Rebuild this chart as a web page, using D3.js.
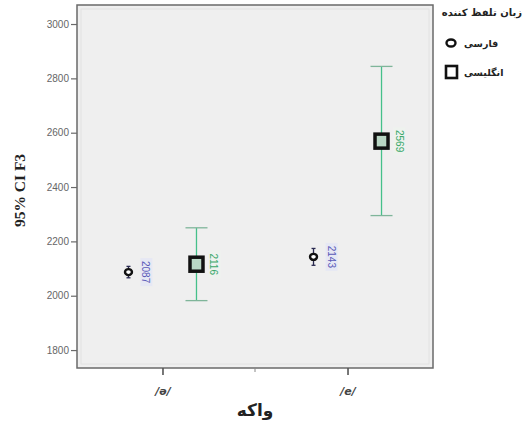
<!DOCTYPE html>
<html><head><meta charset="utf-8">
<script src="https://cdn.jsdelivr.net/npm/d3@7"></script>
<style>body{margin:0;background:#fff}svg{display:block}</style>
</head><body>
<svg id="c" width="524" height="433"></svg>
<script>
const categories = ['/ə/', '/e/'];
const seriesNames = ['فارسی', 'انگلیسی'];
const persianMean = [2087, 2143];
const persianLow = [2066, 2112];
const persianHigh = [2108, 2174];
const englishMean = [2116, 2569];
const englishLow = [1982, 2295];
const englishHigh = [2250, 2844];
const yTicks = [1800, 2000, 2200, 2400, 2600, 2800, 3000];
const yTitle = '95% CI F3';
const xTitle = 'واکه';
const legendTitle = 'زبان تلفظ کننده';

const svg = d3.select('#c');
const L = 77, R = 433, T = 5, B = 368;
const x = d3.scalePoint().domain(categories).range([L, R]).padding(0.462);
const sub = d3.scalePoint().domain(seriesNames).range([-34, 34]);
const y = d3.scaleLinear().domain([1734, 3070]).range([B, T]);

// plot background
svg.append('rect').attr('x', L).attr('y', T).attr('width', R - L).attr('height', B - T).attr('fill', '#efefef');
svg.append('rect').attr('x', L + 4).attr('y', T + 4).attr('width', R - L - 8).attr('height', B - T - 8)
  .attr('fill', 'none').attr('stroke', '#e2e2e2').attr('stroke-width', 1);
svg.append('rect').attr('x', L).attr('y', T).attr('width', R - L).attr('height', B - T)
  .attr('fill', 'none').attr('stroke', '#6a6a6a').attr('stroke-width', 1.5);

// y axis
const ya = svg.append('g').attr('transform', `translate(${L},0)`)
  .call(d3.axisLeft(y).tickValues(yTicks).tickSize(6).tickFormat(d3.format('d')));
ya.select('.domain').remove();
ya.selectAll('line').attr('stroke', '#6a6a6a').attr('stroke-width', 1.2);
ya.selectAll('text').attr('fill', '#666').attr('font-family', 'Liberation Sans, Arial, sans-serif').attr('font-size', 10).attr('x', -8);

// x axis
const xa = svg.append('g').attr('transform', `translate(0,${B})`)
  .call(d3.axisBottom(x).tickSize(7));
xa.select('.domain').remove();
xa.selectAll('line').attr('stroke', '#555').attr('stroke-width', 1.6);
xa.selectAll('text').attr('fill', '#444').attr('font-family', 'DejaVu Sans, sans-serif')
  .attr('font-size', 11).attr('font-weight', 'bold').attr('font-style', 'italic').attr('y', 19);
const mid = (x(categories[0]) + x(categories[1])) / 2;
svg.append('line').attr('x1', mid).attr('x2', mid).attr('y1', B).attr('y2', B + 4).attr('stroke', '#888');

// titles
svg.append('text').attr('transform', `translate(25,${(T + B) / 2 + 4}) rotate(-90)`)
  .attr('text-anchor', 'middle').attr('font-family', 'Liberation Serif, Times New Roman, serif')
  .attr('font-weight', 'bold').attr('font-size', 15.5).attr('fill', '#222').text(yTitle);
svg.append('text').attr('x', mid).attr('y', 416).attr('text-anchor', 'middle')
  .attr('font-family', 'DejaVu Sans, sans-serif').attr('font-weight', 'bold').attr('font-size', 17)
  .attr('fill', '#222').text(xTitle);

// series
const series = [
  {name: seriesNames[0], mean: persianMean, low: persianLow, high: persianHigh, bar: '#2a2a50', cap: 2, label: '#5a5ab8', shape: 'circle'},
  {name: seriesNames[1], mean: englishMean, low: englishLow, high: englishHigh, bar: '#45c08a', cap: 11, label: '#3aa86a', shape: 'square'}
];
series.forEach(s => {
  categories.forEach((c, i) => {
    const cx = x(c) + sub(s.name);
    const g = svg.append('g');
    g.append('line').attr('x1', cx).attr('x2', cx).attr('y1', y(s.high[i])).attr('y2', y(s.low[i]))
      .attr('stroke', s.bar).attr('stroke-width', 1.3);
    [s.high[i], s.low[i]].forEach(v => {
      g.append('line').attr('x1', cx - s.cap).attr('x2', cx + s.cap).attr('y1', y(v)).attr('y2', y(v))
        .attr('stroke', s.shape === 'square' ? '#7fb59a' : s.bar).attr('stroke-width', 1.3);
    });
    const cy = y(s.mean[i]);
    if (s.shape === 'circle') {
      g.append('ellipse').attr('cx', cx).attr('cy', cy).attr('rx', 3.5).attr('ry', 3)
        .attr('fill', '#fff').attr('stroke', '#111').attr('stroke-width', 2.4);
    } else {
      g.append('rect').attr('x', cx - 6.5).attr('y', cy - 7).attr('width', 13).attr('height', 14)
        .attr('fill', '#b9d6c4').attr('stroke', '#111').attr('stroke-width', 3.5);
    }
    const lx = cx + 18;
    const lab = g.append('g').attr('transform', `translate(${lx},${cy}) rotate(90)`);
    lab.append('rect').attr('x', -14).attr('y', -6).attr('width', 28).attr('height', 12)
      .attr('fill', s.shape === 'circle' ? '#e6e8f4' : '#eef2ee');
    lab.append('text').attr('text-anchor', 'middle').attr('dy', 4)
      .attr('font-family', 'Liberation Sans, Arial, sans-serif').attr('font-size', 10)
      .attr('fill', s.label).text(s.mean[i]);
  });
});

// legend
svg.append('text').attr('x', 522).attr('y', 16).attr('text-anchor', 'end')
  .attr('font-family', 'DejaVu Sans, sans-serif').attr('font-size', 10).attr('font-weight', 'bold')
  .attr('fill', '#222').text(legendTitle);
series.forEach((s, i) => {
  const ly = 43 + i * 29;
  if (s.shape === 'circle') {
    svg.append('ellipse').attr('cx', 451).attr('cy', ly).attr('rx', 4.5).attr('ry', 3.5)
      .attr('fill', '#fff').attr('stroke', '#111').attr('stroke-width', 2.4);
  } else {
    svg.append('rect').attr('x', 446).attr('y', ly - 6).attr('width', 11).attr('height', 12)
      .attr('fill', '#fff').attr('stroke', '#111').attr('stroke-width', 2.6);
  }
  svg.append('text').attr('x', 464).attr('y', ly + 4).attr('text-anchor', 'start')
    .attr('direction', 'ltr')
    .attr('font-family', 'DejaVu Sans, sans-serif').attr('font-size', 9.5).attr('font-weight', 'bold')
    .attr('fill', '#222').text(s.name);
});
</script>
</body></html>
